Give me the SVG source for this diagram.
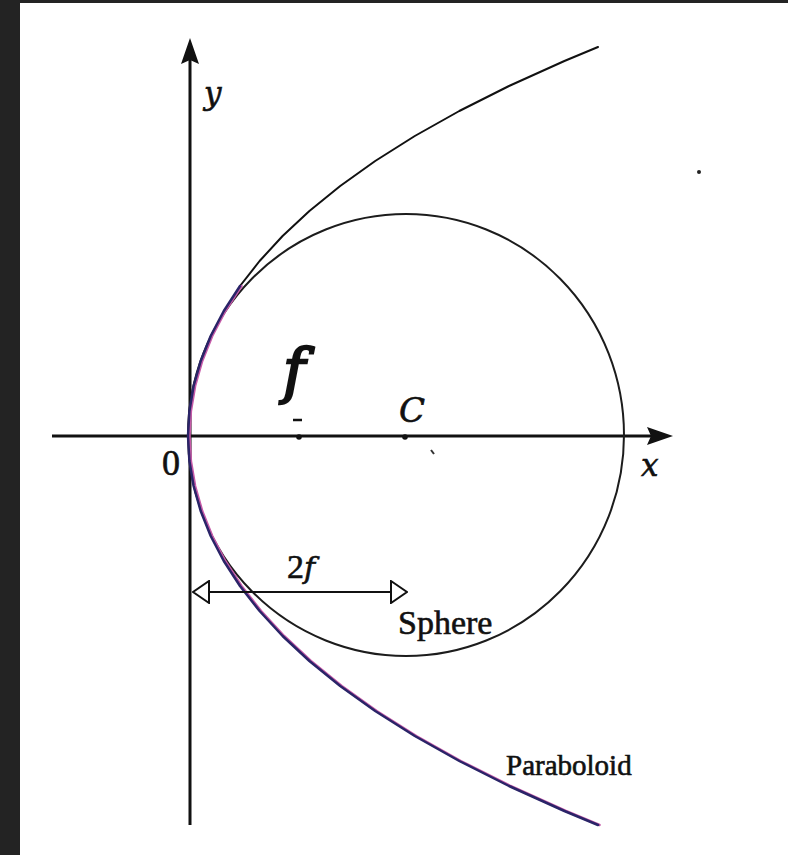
<svg xmlns="http://www.w3.org/2000/svg" width="788" height="855" viewBox="0 0 788 855">
<style>
.axis{stroke:#111;stroke-width:3;fill:none}
.curve{fill:none;stroke-linejoin:round;stroke-linecap:round}
.lbl{font-family:"Liberation Serif","Times New Roman",serif;fill:#111;stroke:#111;stroke-width:0.6}
.it{font-family:"DejaVu Serif","Liberation Serif",serif;font-style:italic}
</style>
<defs>
<marker id="openTri" viewBox="0 0 18 24" refX="17" refY="12" markerWidth="18" markerHeight="24" markerUnits="userSpaceOnUse" orient="auto-start-reverse">
<path d="M1,1 L17,12 L1,23 Z" fill="#fff" stroke="#111" stroke-width="2"/>
</marker>
</defs>
<rect x="0" y="0" width="788" height="855" fill="#ffffff"/>
<rect x="0" y="0" width="20" height="855" fill="#232323"/>
<rect x="0" y="0" width="788" height="3" fill="#232323"/>

<g id="axes">
<line class="axis" x1="190" y1="58" x2="190" y2="825"/>
<path d="M190,38 L199,64 L190,60 L181,64 Z" fill="#111"/>
<line class="axis" x1="52" y1="436" x2="655" y2="436"/>
<path d="M673,436 L647,427 L651,436 L647,445 Z" fill="#111"/>
</g>

<g id="sphere">
<ellipse cx="406" cy="435" rx="218" ry="221" fill="none" stroke="#1c1c1c" stroke-width="2"/>
</g>

<g id="paraboloid">
<polyline class="curve" stroke="#111" stroke-width="2" points="598,47 564.4,61 509,86 459.3,111 414.8,136 375.2,161 340.2,186 309.4,211 282.6,236 259.6,261 240,286"/>
<polyline class="curve" stroke="#c65aa8" stroke-width="2.5" transform="translate(1.5,0)" points="240,286 223.8,311 210.7,336 200.7,361 193.6,386 189.4,411 188,436 189.4,461 193.6,486 200.7,511 210.7,536 223.8,561 240,586 259.6,611 282.6,636 309.4,661 340.2,686 375.2,711 414.8,736 459.3,761 509,786 564.4,811 598,825"/>
<polyline class="curve" stroke="#2a2468" stroke-width="2.5" points="240,286 223.8,311 210.7,336 200.7,361 193.6,386 189.4,411 188,436 189.4,461 193.6,486 200.7,511 210.7,536 223.8,561 240,586 259.6,611 282.6,636 309.4,661 340.2,686 375.2,711 414.8,736 459.3,761 509,786 564.4,811 598,825"/>
</g>

<g id="points">
<line x1="293" y1="420" x2="302" y2="420" stroke="#111" stroke-width="2.5"/>
<circle cx="299" cy="437" r="2.8" fill="#111"/>
<circle cx="405" cy="437" r="2.8" fill="#111"/>
<line x1="431" y1="450" x2="434" y2="454" stroke="#333" stroke-width="2"/>
<circle cx="699" cy="172" r="2" fill="#222"/>
</g>

<g id="connectors">
<line x1="193" y1="592" x2="407" y2="592" stroke="#111" stroke-width="2" marker-start="url(#openTri)" marker-end="url(#openTri)"/>
</g>

<g id="labels">
<text class="lbl it" x="204" y="104" font-size="31">y</text>
<text class="lbl it" x="641" y="476" font-size="31">x</text>
<text class="lbl" x="162" y="475" font-size="36">0</text>
<text class="lbl it" x="399" y="422" font-size="34">C</text>
<text class="lbl it" x="283" y="392" font-size="60" style="stroke-width:2.4">f</text>
<text class="lbl" x="287" y="578" font-size="34">2<tspan class="it" font-size="30">f</tspan></text>
<text class="lbl" x="398" y="634" font-size="34">Sphere</text>
<text class="lbl" x="506" y="775" font-size="29">Paraboloid</text>
</g>
</svg>
